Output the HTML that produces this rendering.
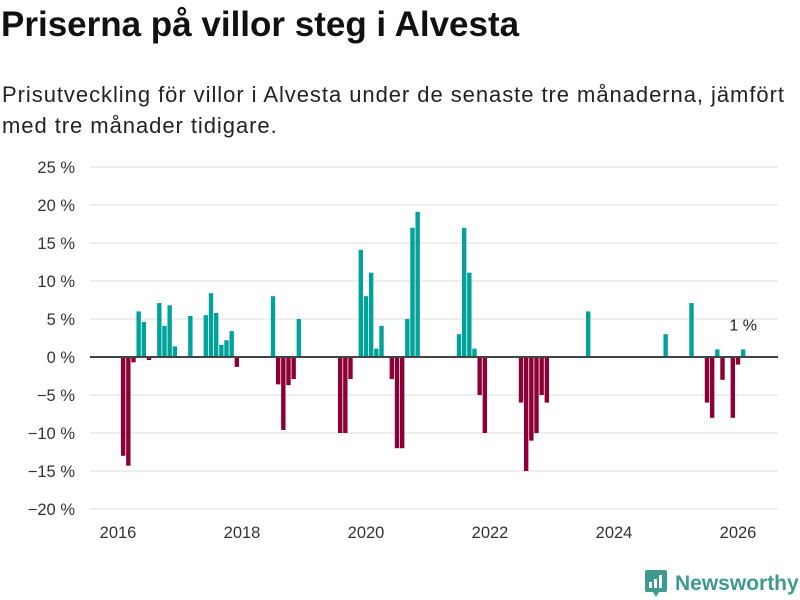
<!DOCTYPE html>
<html><head><meta charset="utf-8">
<style>
body{margin:0;width:800px;height:600px;background:#fff;font-family:"Liberation Sans","DejaVu Sans",sans-serif;overflow:hidden;position:relative}
h1{position:absolute;left:1px;top:5px;margin:0;font-size:35px;font-weight:bold;color:#111}
p{position:absolute;left:2px;top:79px;margin:0;font-size:22px;letter-spacing:0.95px;line-height:31px;color:#222;width:798px}
svg{position:absolute;left:0;top:0}
</style></head><body>
<h1>Priserna på villor steg i Alvesta</h1>
<p>Prisutveckling för villor i Alvesta under de senaste tre månaderna, jämfört med tre månader tidigare.</p>
<svg id="chart" width="800" height="600"></svg>
<script>
const months = [1,2,3,4,5,6,8,9,10,11,14,17,18,19,20,21,22,23,30,31,32,33,34,35,43,44,45,47,48,49,50,51,53,54,55,56,57,58,66,67,68,69,70,71,78,79,80,81,82,83,91,106,111,114,115,116,117,119,120,121];
const values = [-13,-14.3,-0.7,6,4.6,-0.4,7.1,4.1,6.8,1.4,5.4,5.5,8.4,5.8,1.6,2.2,3.4,-1.3,8,-3.6,-9.6,-3.7,-2.9,5,-10,-10,-2.9,14.1,8,11.1,1.1,4.1,-2.9,-12,-12,5,17,19.1,3,17,11.1,1.1,-5,-10,-6,-15,-11,-10,-5,-6,6,3,7.1,-6,-8,1,-3,-8,-1,1];
const yTicks = [25,20,15,10,5,0,-5,-10,-15,-20];
const xTickYears = [2016,2018,2020,2022,2024,2026];

const svg = document.getElementById('chart');
const NS = 'http://www.w3.org/2000/svg';
const y = v => 357 - v * 7.6;
const x = m => 118 + m * (62/12);
function mk(tag, attrs){const e=document.createElementNS(NS,tag);for(const k in attrs)e.setAttribute(k,attrs[k]);svg.appendChild(e);return e;}
yTicks.forEach(t=>{
  if(t!==0){const g=mk('line',{x1:90,x2:778,y1:y(t),y2:y(t),stroke:'#dcdcdc','stroke-width':1});
  
  }
  const l=mk('text',{x:75,y:y(t)+6,'text-anchor':'end','font-size':16.5,fill:'#333'});
  l.textContent=(t<0?'\u2212'+(-t):t)+' %';
  
  
});
xTickYears.forEach(yr=>{
  const l=mk('text',{x:x((yr-2016)*12),y:538,'text-anchor':'middle','font-size':16.5,fill:'#333'});
  l.textContent=yr;
  
  
});
months.forEach((m,i)=>{
  const v=values[i];
  const r=mk('rect',{x:x(m)-2.2,width:4.4,y:Math.min(y(v),y(0)),height:Math.abs(y(v)-y(0)),fill:v>=0?'#00a39a':'#8c0036'});
  
  
});
const z=mk('line',{x1:90,x2:778,y1:y(0),y2:y(0),stroke:'#444','stroke-width':2});


const lastI=months.length-1;
const a=mk('text',{x:x(months[lastI]),y:y(values[lastI])-19,'text-anchor':'middle','font-size':16,fill:'#222'});
a.textContent=values[lastI]+' %';


</script>
<div style="position:absolute;left:645px;top:570px;display:flex;align-items:center;gap:8px">
<svg width="22" height="28" viewBox="0 0 22 28" style="position:static"><path d="M0 2Q0 0 2 0H20Q22 0 22 2V20Q22 22 20 22H14L11 27L8 22H2Q0 22 0 20Z" fill="#3d9a8f"/><rect x="4" y="12" width="3" height="6" fill="#fff"/><rect x="9" y="9" width="3" height="9" fill="#fff"/><rect x="14" y="5" width="3" height="13" fill="#fff"/></svg>
<span style="font-size:21px;color:#3d9a8f;font-weight:bold">Newsworthy</span></div>
</body></html>
